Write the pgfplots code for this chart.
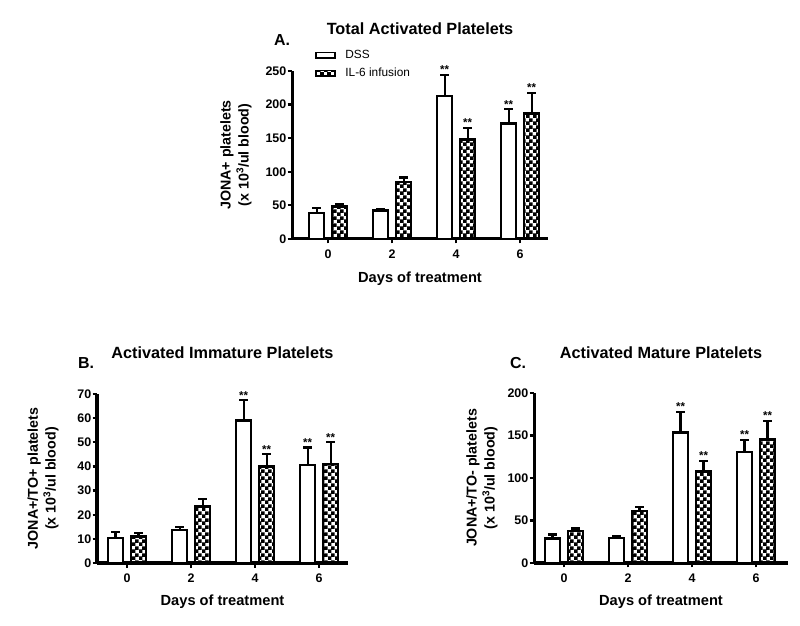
\documentclass[border=0pt]{standalone}
\usepackage{fontspec}
\setmainfont{Liberation Sans}
\usepackage{pgfplots}
\pgfplotsset{compat=1.18}
\usetikzlibrary{patterns}

\pgfdeclarepatternformonly{mycheck}{\pgfpointorigin}{\pgfqpoint{6.6bp}{6.6bp}}{\pgfqpoint{6.6bp}{6.6bp}}{%
 \pgfpathrectangle{\pgfpointorigin}{\pgfqpoint{3.7bp}{3.7bp}}%
 \pgfpathrectangle{\pgfqpoint{3.3bp}{3.3bp}}{\pgfqpoint{3.7bp}{3.7bp}}%
 \pgfusepath{fill}}

\pgfplotsset{
 gp/.style={
  scale only axis,
  axis lines=left,
  axis line style={-, line width=3bp},
  ymin=0,
  xtick={0,2,4,6},
  tick align=outside,
  major tick length=4.5bp,
  major tick style={line width=2.2bp, black},
  ybar, bar width=15bp,
  /pgf/number format/assume math mode=true,
  tick label style={font=\fontsize{12.5}{12.5}\selectfont\bfseries},
  yticklabel style={inner sep=1bp},
  xticklabel style={yshift=-3bp},
  xlabel={Days of treatment},
  xlabel style={font=\fontsize{14.7}{17}\selectfont\bfseries, anchor=center},
  ylabel style={font=\fontsize{14.3}{18}\selectfont\bfseries, align=center, anchor=center},
  title style={font=\fontsize{16.3}{18}\selectfont\bfseries, anchor=center},
  clip=false,
 },
 dss/.style={draw=black, fill=white, line width=2.5bp, bar shift=-11.5bp,
   legend image code/.code={\draw[draw=black, fill=white, line width=1.8bp] (0bp,-2.7bp) rectangle (19bp,2.7bp); \path (26bp,0bp);},
   error bars/.cd, y dir=plus, y explicit,
   error bar style={line width=2.2bp, black},
   error mark options={rotate=90, mark size=4.5bp, line width=2.2bp, black}},
 il/.style={draw=black, pattern=mycheck, line width=2.5bp, bar shift=11.5bp,
   legend image code/.code={\draw[draw=black, pattern=mycheck, line width=1.8bp] (0bp,-2.7bp) rectangle (19bp,2.7bp); \path (26bp,0bp);},
   error bars/.cd, y dir=plus, y explicit,
   error bar style={line width=2.2bp, black},
   error mark options={rotate=90, mark size=4.5bp, line width=2.2bp, black}},
 stars/.style={draw=none, fill=none, forget plot, bar shift=#1,
   nodes near coords={**}, nodes near coords align=vertical,
   every node near coord/.append style={font=\fontsize{11.5}{11.5}\selectfont\bfseries, inner sep=1bp, text=black}},
}

\begin{document}
\begin{tikzpicture}
\path[use as bounding box] (0,0) rectangle (800bp,626bp);

% Panel A
\begin{axis}[gp, at={(292bp,387bp)}, anchor=south west,
  width=256bp, height=168bp,
  xmin=-1.13, xmax=6.87, ymax=250, ytick={0,50,100,150,200,250},
  title={Total Activated Platelets},
  title style={at={(axis description cs:0.5,1.214)}},
  ylabel={JONA+ platelets\\(x 10\textsuperscript{3}/ul blood)},
  ylabel style={at={(axis description cs:-0.219,0.5)}},
  xlabel style={at={(axis description cs:0.5,-0.238)}},
  legend style={at={(axis description cs:0.09,1.136)}, anchor=north west,
    draw=none, fill=none, inner sep=0pt, row sep=4bp,
    font=\fontsize{11.9}{14}\selectfont, legend cell align=left},
  ]
\addplot[dss] coordinates {(0,39) +- (0,7.5) (2,42.6) +- (0,2.4) (4,213) +- (0,31.5) (6,171.8) +- (0,21.2)};
\addlegendentry{DSS}
\addplot[il] coordinates {(0,48) +- (0,4.5) (2,84.7) +- (0,6.9) (4,148) +- (0,17) (6,187) +- (0,30)};
\addlegendentry{IL-6 infusion}
\addplot[stars=-11.5bp] coordinates {(4,244.5) (6,193)};
\addplot[stars=11.5bp] coordinates {(4,165) (6,217)};
\end{axis}

% Panel B
\begin{axis}[gp, at={(97bp,63bp)}, anchor=south west,
  width=251bp, height=169bp,
  xmin=-0.94, xmax=6.9, ymax=70, ytick={0,10,...,70},
  title={Activated Immature Platelets},
  title style={at={(axis description cs:0.5,1.208)}},
  ylabel={JONA+/TO+ platelets\\(x 10\textsuperscript{3}/ul blood)},
  ylabel style={at={(axis description cs:-0.215,0.5)}},
  xlabel style={at={(axis description cs:0.5,-0.231)}},
  ]
\addplot[dss] coordinates {(0,10.3) +- (0,2.7) (2,13.6) +- (0,1.3) (4,59) +- (0,8.4) (6,40.6) +- (0,7.2)};
\addplot[il] coordinates {(0,11) +- (0,1.3) (2,23.3) +- (0,3.3) (4,40) +- (0,5) (6,41) +- (0,9)};
\addplot[stars=-11.5bp] coordinates {(4,67.4) (6,47.8)};
\addplot[stars=11.5bp] coordinates {(4,45) (6,50)};
\end{axis}

% Panel C
\begin{axis}[gp, at={(534bp,63bp)}, anchor=south west,
  width=254bp, height=170bp,
  xmin=-0.94, xmax=7.0, ymax=200, ytick={0,50,100,150,200},
  title={Activated Mature Platelets},
  title style={at={(axis description cs:0.5,1.2)}},
  ylabel={JONA+/TO- platelets\\(x 10\textsuperscript{3}/ul blood)},
  ylabel style={at={(axis description cs:-0.205,0.5)}},
  xlabel style={at={(axis description cs:0.5,-0.23)}},
  ]
\addplot[dss] coordinates {(0,28.9) +- (0,4.7) (2,29.3) +- (0,2) (4,153.5) +- (0,24.5) (6,130.5) +- (0,14.5)};
\addplot[il] coordinates {(0,37.5) +- (0,3.1) (2,61.3) +- (0,4.3) (4,107.4) +- (0,12.6) (6,145) +- (0,22)};
\addplot[stars=-11.5bp] coordinates {(4,178) (6,145)};
\addplot[stars=11.5bp] coordinates {(4,120) (6,167)};
\end{axis}

\node[font=\fontsize{16}{18}\selectfont\bfseries] at (282bp,586bp) {A.};
\node[font=\fontsize{16}{18}\selectfont\bfseries] at (86bp,263bp) {B.};
\node[font=\fontsize{16}{18}\selectfont\bfseries] at (518bp,263bp) {C.};
\end{tikzpicture}
\end{document}
